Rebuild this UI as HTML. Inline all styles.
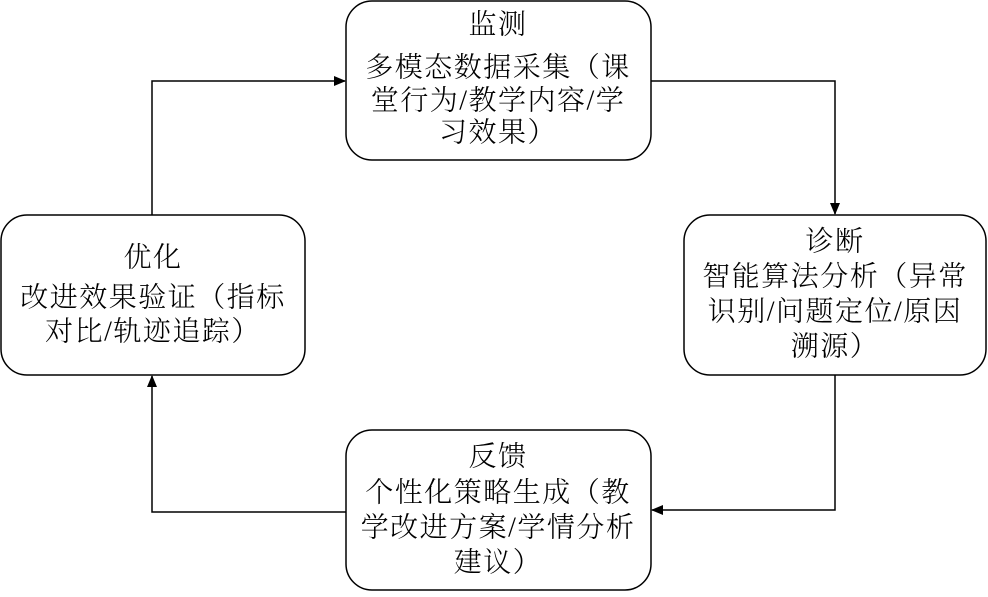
<!DOCTYPE html>
<html><head><meta charset="utf-8"><style>
html,body{margin:0;padding:0;background:#fff;}
svg text{font-family:"Liberation Serif","Noto Serif CJK SC",serif;font-size:28px;font-weight:300;letter-spacing:1.5px;fill:#000;text-anchor:middle;dominant-baseline:central;}
</style></head><body>
<svg width="988" height="592" viewBox="0 0 988 592" xmlns="http://www.w3.org/2000/svg">
<defs><marker id="a" markerWidth="12" markerHeight="10" refX="11" refY="5" orient="auto" markerUnits="userSpaceOnUse"><path d="M0,0 L12,5 L0,10 z" fill="#000"/></marker></defs>
<g fill="#fff" stroke="#000" stroke-width="1.5">
<rect x="346" y="1" width="305" height="159" rx="26"/>
<rect x="684" y="215" width="302" height="160" rx="26"/>
<rect x="346" y="430" width="305" height="160" rx="26"/>
<rect x="1" y="215" width="304" height="160" rx="26"/>
</g>
<g fill="none" stroke="#000" stroke-width="1.5">
<path d="M651,81 H835 V214" marker-end="url(#a)"/>
<path d="M835,375 V510 H652" marker-end="url(#a)"/>
<path d="M346,512 H152 V376" marker-end="url(#a)"/>
<path d="M152,215 V81 H345" marker-end="url(#a)"/>
</g>
<text x="498" y="25">监测</text>
<text x="498" y="68">多模态数据采集（课</text>
<text x="498" y="101">堂行为/教学内容/学</text>
<text x="498" y="133">习效果）</text>
<text x="835" y="242">诊断</text>
<text x="835" y="277">智能算法分析（异常</text>
<text x="835" y="312">识别/问题定位/原因</text>
<text x="835" y="347">溯源）</text>
<text x="498" y="457">反馈</text>
<text x="498" y="493">个性化策略生成（教</text>
<text x="498" y="528">学改进方案/学情分析</text>
<text x="498" y="563">建议）</text>
<text x="153" y="258">优化</text>
<text x="153" y="298">改进效果验证（指标</text>
<text x="153" y="332">对比/轨迹追踪）</text>
</svg>
</body></html>
